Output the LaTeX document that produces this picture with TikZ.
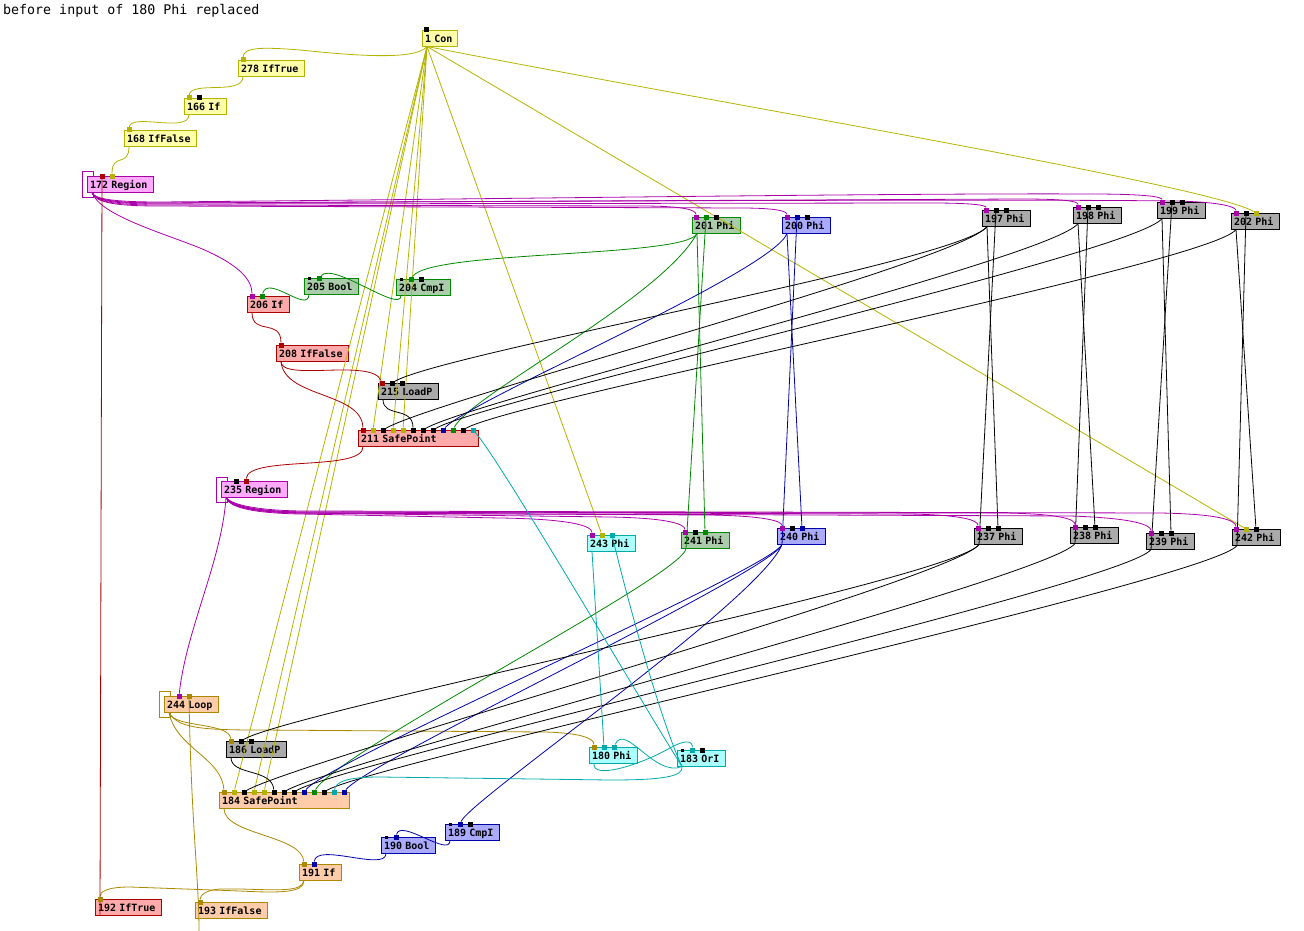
\documentclass[tikz,border=0pt]{standalone}
\usepackage{fontspec}
\setmonofont{DejaVu Sans Mono}
\definecolor{olv}{RGB}{180,180,0}
\definecolor{yelF}{RGB}{255,255,170}
\definecolor{mag}{RGB}{170,0,170}
\definecolor{magF}{RGB}{255,170,255}
\definecolor{redE}{RGB}{170,0,0}
\definecolor{redF}{RGB}{255,170,170}
\definecolor{grn}{RGB}{0,136,0}
\definecolor{grnF}{RGB}{170,204,170}
\definecolor{blu}{RGB}{0,0,170}
\definecolor{bluF}{RGB}{170,170,255}
\definecolor{gryF}{RGB}{170,170,170}
\definecolor{cyn}{RGB}{0,170,170}
\definecolor{cynF}{RGB}{170,255,255}
\definecolor{gld}{RGB}{170,136,0}
\definecolor{orgF}{RGB}{255,204,170}
\pgfdeclarelayer{boxes}
\pgfdeclarelayer{edges}
\pgfsetlayers{boxes,edges,main}
\newcommand\mkports[4]{\foreach \x/\c [count=\i from #4] in {#3} {\node[prt=\c] (#1p\i) at (\x,#2) {};}}
\begin{document}
\begin{tikzpicture}[x=1pt,y=-1pt,
  base/.style={anchor=north west, minimum height=16pt, inner xsep=2.5pt, inner ysep=0pt,
    font=\ttfamily\bfseries\fontsize{10}{10}\selectfont, line width=1pt, align=left,
    text height=7.5pt, text depth=0pt},
  yel/.style={base, fill=yelF, draw=olv},
  mg/.style={base, fill=magF, draw=mag},
  rd/.style={base, fill=redF, draw=redE},
  gr/.style={base, fill=grnF, draw=grn},
  bl/.style={base, fill=bluF, draw=blu},
  gy/.style={base, fill=gryF, draw=black},
  cy/.style={base, fill=cynF, draw=cyn},
  og/.style={base, fill=orgF, draw=gld},
  prt/.style={fill=#1, minimum size=5pt, inner sep=0pt, outer sep=0pt, draw=none},
  sprt/.style={fill=black, minimum size=3pt, inner sep=0pt, outer sep=0pt, draw=none},
  e/.style={line width=0.8pt},
  eo/.style={e, draw=olv}, eg/.style={e, draw=gld}, em/.style={e, draw=mag},
  er/.style={e, draw=redE}, egr/.style={e, draw=grn}, eb/.style={e, draw=blu},
  ek/.style={e, draw=black}, ec/.style={e, draw=cyn}]
\useasboundingbox (0,0) rectangle (1304,931);
\node[anchor=north west, font=\ttfamily\fontsize{13.3}{14}\selectfont, inner sep=0pt] (title) at (3,4) {before input of 180 Phi replaced};

\begin{pgfonlayer}{boxes}
\draw[mag, line width=1pt] (82,172) rectangle (93,197);
\draw[mag, line width=1pt] (216,477) rectangle (227,502);
\draw[gld, line width=1pt] (159,691) rectangle (170,717);
\node[yel, text width=30pt] (n1) at (422,30) {1 Con};
\node[yel, text width=61pt] (n278) at (238,60) {278 IfTrue};
\node[yel, text width=37pt] (n166) at (184,98) {166 If};
\node[yel, text width=67pt] (n168) at (124,130) {168 IfFalse};
\node[mg, text width=61pt] (n172) at (87,176) {172 Region};
\node[gr, text width=49pt] (n205) at (304,278) {205 Bool};
\node[gr, text width=49pt] (n204) at (396,279) {204 CmpI};
\node[rd, text width=37pt] (n206) at (247,296) {206 If};
\node[gr, text width=43pt] (n201) at (692,217) {201 Phi};
\node[bl, text width=43pt] (n200) at (782,217) {200 Phi};
\node[gy, text width=43pt] (n197) at (982,210) {197 Phi};
\node[gy, text width=43pt] (n198) at (1073,207) {198 Phi};
\node[gy, text width=43pt] (n199) at (1157,202) {199 Phi};
\node[gy, text width=43pt] (n202) at (1231,213) {202 Phi};
\node[rd, text width=67pt] (n208) at (276,345) {208 IfFalse};
\node[gy, text width=55pt] (n215) at (378,383) {215 LoadP};
\node[rd, text width=115pt] (n211) at (358,430) {211 SafePoint};
\node[mg, text width=61pt] (n235) at (221,481) {235 Region};
\node[cy, text width=43pt] (n243) at (587,535) {243 Phi};
\node[gr, text width=43pt] (n241) at (681,532) {241 Phi};
\node[bl, text width=43pt] (n240) at (777,528) {240 Phi};
\node[gy, text width=43pt] (n237) at (974,528) {237 Phi};
\node[gy, text width=43pt] (n238) at (1070,527) {238 Phi};
\node[gy, text width=43pt] (n239) at (1146,533) {239 Phi};
\node[gy, text width=43pt] (n242) at (1232,529) {242 Phi};
\node[og, text width=49pt] (n244) at (164,696) {244 Loop};
\node[gy, text width=55pt] (n186) at (226,741) {186 LoadP};
\node[og, text width=125pt] (n184) at (219,792) {184 SafePoint};
\node[cy, text width=43pt] (n180) at (589,747) {180 Phi};
\node[cy, text width=43pt] (n183) at (677,750) {183 OrI};
\node[bl, text width=49pt] (n189) at (445,824) {189 CmpI};
\node[bl, text width=49pt] (n190) at (381,837) {190 Bool};
\node[og, text width=37pt] (n191) at (299,864) {191 If};
\node[rd, text width=61pt] (n192) at (95,899) {192 IfTrue};
\node[og, text width=67pt] (n193) at (195,902) {193 IfFalse};
\end{pgfonlayer}

% ports
\mkports{n1}{30}{426/black}{1}
\mkports{n278}{60}{243/olv}{1}
\mkports{n166}{98}{189/olv,199/black}{1}
\mkports{n168}{130}{129/olv}{1}
\mkports{n172}{176}{102/redE,112/olv}{1}
\node[sprt] (n205p1) at (309,278) {};
\mkports{n205}{278}{319/grn}{2}
\node[sprt] (n204p1) at (401,279) {};
\mkports{n204}{279}{411/grn,421/black}{2}
\mkports{n206}{296}{252/mag,262/grn}{1}
\mkports{n201}{217}{696/mag,706/grn,716/black}{1}
\mkports{n200}{217}{787/mag,797/blu,807/black}{1}
\mkports{n197}{210}{986/mag,996/black,1006/black}{1}
\mkports{n198}{207}{1078/mag,1088/black,1098/black}{1}
\mkports{n199}{202}{1162/mag,1172/black,1182/black}{1}
\mkports{n202}{213}{1236/mag,1246/black,1256/olv}{1}
\mkports{n208}{345}{281/redE}{1}
\mkports{n215}{383}{382/redE,392/black,402/black}{1}
\mkports{n211}{430}{363/redE,373/olv,383/black,393/olv,403/olv,413/black,423/black,433/black,443/blu,453/grn,463/black,473/cyn}{1}
\mkports{n235}{481}{236/black,246/redE}{1}
\mkports{n243}{535}{592/mag,602/olv,612/cyn}{1}
\mkports{n241}{532}{685/mag,695/black,705/grn}{1}
\mkports{n240}{528}{782/mag,792/black,802/blu}{1}
\mkports{n237}{528}{978/mag,988/black,998/black}{1}
\mkports{n238}{527}{1075/mag,1085/black,1095/black}{1}
\mkports{n239}{533}{1151/mag,1161/black,1171/black}{1}
\mkports{n242}{529}{1236/mag,1246/olv,1256/black}{1}
\mkports{n244}{696}{179/mag,189/gld}{1}
\mkports{n186}{741}{231/gld,241/black,251/black}{1}
\mkports{n184}{792}{224/gld,234/olv,244/black,254/olv,264/olv,274/black,284/black,294/black,304/blu,314/grn,324/black,334/cyn,344/blu}{1}
\mkports{n180}{747}{594/gld,604/cyn,614/cyn}{1}
\node[sprt] (n183p1) at (682,750) {};
\mkports{n183}{750}{692/cyn,702/black}{2}
\node[sprt] (n189p1) at (450,824) {};
\mkports{n189}{824}{460/blu,470/black}{2}
\node[sprt] (n190p1) at (386,837) {};
\mkports{n190}{837}{396/blu}{2}
\mkports{n191}{864}{304/gld,314/blu}{1}
\mkports{n192}{899}{100/gld}{1}
\mkports{n193}{902}{200/gld}{1}

% outputs
\foreach \n in {n1,n278,n166,n168,n172,n205,n204,n206,n201,n200,n197,n198,n199,n202,n208,n215,n211,n235,n243,n241,n240,n237,n238,n239,n242,n244,n186,n184,n180,n183,n189,n190,n191,n192,n193}
  \coordinate (\n o) at ([xshift=5pt,yshift=0.5pt]\n.south west);
\coordinate (lpend) at (199,931);

\begin{pgfonlayer}{edges}
% olive
\draw[eo] (n1o) .. controls (415,62) and (340,54) .. (300,50) .. controls (262,47) and (243,47) .. (n278p1);
\draw[eo] (n278o) .. controls (243,96) and (190,80) .. (n166p1);
\draw[eo] (n166o) .. controls (189,134) and (130,112) .. (n168p1);
\draw[eo] (n168o) .. controls (129,168) and (112,152) .. (n172p2);
\foreach \p in {n211p2,n211p4,n211p5,n184p2,n184p4,n184p5,n243p2,n242p2} \draw[eo] (n1o) -- (\p);
\draw[eo] (n1o) .. controls (700,100) and (1210,185) .. (n202p3);
% gold
\draw[eg] (n244o) .. controls (173,728) and (229,722) .. (n186p1);
\draw[eg] (n244o) .. controls (176,748) and (222,758) .. (n184p1);
\draw[eg] (n244o) .. controls (178,728) and (200,730) .. (260,730) -- (545,732) .. controls (580,733) and (594,738) .. (n180p1);
\draw[eg] (n184o) .. controls (224,835) and (302,835) .. (n191p1);
\draw[eg] (n191o) .. controls (304,893) and (280,893) .. (240,891) -- (130,887) .. controls (106,887) and (100,892) .. (n192p1);
\draw[eg] (n191o) .. controls (302,892) and (280,890) .. (240,889) -- (220,889) .. controls (206,890) and (200,895) .. (n193p1);
\draw[eg] (n244p2) .. controls (191,820) and (199,880) .. (lpend);
% magenta from 172
\draw[em] (n172o) .. controls (95,202) and (115,205) .. (160,205) -- (640,206) .. controls (685,206) and (696,210) .. (n201p1);
\draw[em] (n172o) .. controls (96,203) and (116,206) .. (160,206) -- (740,208) .. controls (776,208) and (787,211) .. (n200p1);
\draw[em] (n172o) .. controls (95,201) and (115,204) .. (160,204) -- (930,203) .. controls (972,203) and (986,205) .. (n197p1);
\draw[em] (n172o) .. controls (94,200) and (114,203) .. (160,203) -- (1020,199) .. controls (1064,199) and (1078,201) .. (n198p1);
\draw[em] (n172o) .. controls (94,199) and (114,202) .. (160,202) .. controls (500,199) and (900,193) .. (1090,194) .. controls (1148,194) and (1162,197) .. (n199p1);
\draw[em] (n172o) .. controls (95,200) and (114,203) .. (160,203) .. controls (600,201) and (1000,199) .. (1175,201) .. controls (1222,202) and (1236,207) .. (n202p1);
\draw[em] (n172o) .. controls (100,215) and (160,232) .. (200,248) .. controls (240,265) and (252,280) .. (n206p1);
% magenta from 235
\draw[em] (n235o) .. controls (229,507) and (250,513) .. (300,514) -- (500,518) .. controls (572,519) and (592,526) .. (n243p1);
\draw[em] (n235o) .. controls (229,506) and (250,512) .. (300,513) -- (610,517) .. controls (668,518) and (685,524) .. (n241p1);
\draw[em] (n235o) .. controls (230,506) and (250,512) .. (300,513) -- (710,515) .. controls (765,516) and (782,521) .. (n240p1);
\draw[em] (n235o) .. controls (230,505) and (250,511) .. (300,512) -- (910,514) .. controls (962,515) and (978,520) .. (n237p1);
\draw[em] (n235o) .. controls (231,505) and (252,511) .. (300,512) -- (1005,513) .. controls (1060,514) and (1075,519) .. (n238p1);
\draw[em] (n235o) .. controls (230,506) and (251,512) .. (300,513) -- (1070,516) .. controls (1134,518) and (1151,525) .. (n239p1);
\draw[em] (n235o) .. controls (231,504) and (252,510) .. (300,511) -- (1160,513) .. controls (1218,514) and (1236,520) .. (n242p1);
\draw[em] (n235o) .. controls (222,560) and (186,630) .. (n244p1);
% red
\draw[er] (n192o) -- (n172p1);
\draw[er] (n206o) .. controls (252,336) and (281,318) .. (n208p1);
\draw[er] (n208o) .. controls (281,382) and (372,358) .. (n215p1);
\draw[er] (n208o) .. controls (284,398) and (362,392) .. (n211p1);
\draw[er] (n211o) .. controls (364,472) and (248,455) .. (n235p2);
% green
\draw[egr] (n205o) .. controls (308,314) and (268,274) .. (n206p2);
\draw[egr] (n204o) .. controls (401,314) and (334,262) .. (n205p2);
\draw[egr] (n201o) .. controls (686,258) and (430,250) .. (n204p2);
\draw[egr] (n201o) .. controls (660,300) and (470,395) .. (n211p10);
\draw[egr] (n201o) -- (n241p3);
\draw[egr] (n241o) -- (n201p2);
\draw[egr] (n241o) .. controls (684,575) and (340,750) .. (n184p10);
% blue
\draw[eb] (n200o) .. controls (772,272) and (470,400) .. (n211p9);
\draw[eb] (n200o) -- (n240p3);
\draw[eb] (n240o) -- (n200p2);
\draw[eb] (n240o) .. controls (770,570) and (330,760) .. (n184p9);
\draw[eb] (n240o) .. controls (772,572) and (370,760) .. (n184p13);
\draw[eb] (n240o) .. controls (760,600) and (470,800) .. (n189p2);
\draw[eb] (n189o) .. controls (450,858) and (400,818) .. (n190p2);
\draw[eb] (n190o) .. controls (386,872) and (316,842) .. (n191p2);
% black
\draw[ek] (n197o) .. controls +(-25,35) and +(50,-30) .. (n215p2);
\draw[ek] (n197o) .. controls +(-25,35) and +(50,-30) .. (n211p3);
\draw[ek] (n198o) .. controls +(-25,35) and +(50,-30) .. (n211p7);
\draw[ek] (n199o) .. controls +(-25,35) and +(50,-30) .. (n211p8);
\draw[ek] (n202o) .. controls +(-25,35) and +(50,-30) .. (n211p11);
\draw[ek] (n215o) .. controls (383,418) and (413,406) .. (n211p6);
\draw[ek] (n197o) -- (n237p3);
\draw[ek] (n237o) -- (n197p2);
\draw[ek] (n198o) -- (n238p3);
\draw[ek] (n238o) -- (n198p2);
\draw[ek] (n199o) -- (n239p3);
\draw[ek] (n239o) -- (n199p2);
\draw[ek] (n202o) -- (n242p3);
\draw[ek] (n242o) -- (n202p2);
\draw[ek] (n237o) .. controls +(-25,35) and +(50,-30) .. (n186p2);
\draw[ek] (n237o) .. controls +(-25,35) and +(50,-30) .. (n184p3);
\draw[ek] (n238o) .. controls +(-25,35) and +(50,-30) .. (n184p7);
\draw[ek] (n239o) .. controls +(-25,35) and +(50,-30) .. (n184p8);
\draw[ek] (n242o) .. controls +(-25,35) and +(50,-30) .. (n184p11);
\draw[ek] (n186o) .. controls (231,776) and (272,768) .. (n184p6);
% cyan
\draw[ec] (n183o) .. controls (640,700) and (500,460) .. (n211p12);
\draw[ec] (n183o) .. controls (660,720) and (625,590) .. (n243p3);
\draw[ec] (n183o) .. controls (655,778) and (625,722) .. (n180p3);
\draw[ec] (n180o) .. controls (592,780) and (640,765) .. (670,748) .. controls (684,740) and (693,740) .. (n183p2);
\draw[ec] (n183o) .. controls (684,777) and (660,780) .. (610,780) -- (380,777) .. controls (346,777) and (336,782) .. (n184p12);
\draw[ec] (n243o) -- (n180p2);
\end{pgfonlayer}
\end{tikzpicture}
\end{document}
